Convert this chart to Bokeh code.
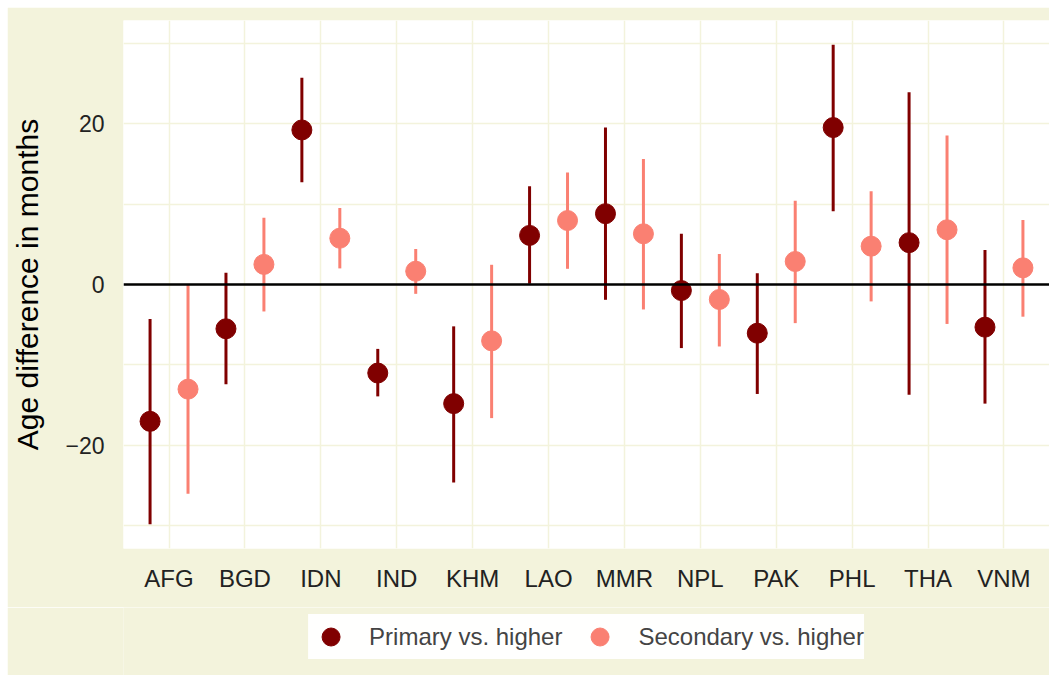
from bokeh.plotting import figure
from bokeh.layouts import column
from bokeh.models import (ColumnDataSource, FactorRange, Range1d, FixedTicker,
                          Span, Legend, LegendItem)
from bokeh.transform import dodge
from bokeh.embed import file_html
from bokeh.resources import INLINE

countries = ["AFG", "BGD", "IDN", "IND", "KHM", "LAO", "MMR", "NPL", "PAK", "PHL", "THA", "VNM"]

primary_est = [-17.0, -5.5, 19.2, -11.0, -14.8, 6.1, 8.8, -0.75, -6.05, 19.5, 5.2, -5.3]
primary_low = [-29.8, -12.4, 12.7, -13.9, -24.6, 0.1, -1.9, -7.9, -13.6, 9.1, -13.7, -14.8]
primary_high = [-4.3, 1.45, 25.7, -8.0, -5.2, 12.2, 19.5, 6.3, 1.4, 29.8, 23.9, 4.3]

secondary_est = [-13.0, 2.5, 5.75, 1.65, -7.0, 7.95, 6.3, -1.86, 2.86, 4.76, 6.8, 2.07]
secondary_low = [-26.0, -3.35, 2.0, -1.16, -16.6, 1.95, -3.1, -7.7, -4.8, -2.1, -4.9, -4.0]
secondary_high = [0.0, 8.3, 9.5, 4.4, 2.45, 13.9, 15.6, 3.8, 10.4, 11.6, 18.5, 8.0]

y_ticks = [-20, 0, 20]
y_minor = [-30, -10, 10, 30]
reference_level = 0

DARK = "#800000"
LIGHT = "#FA8072"
BEIGE = "#F3F3DC"
FONT = "Liberation Sans"

src_p = ColumnDataSource(dict(c=countries, est=primary_est, lo=primary_low, hi=primary_high))
src_s = ColumnDataSource(dict(c=countries, est=secondary_est, lo=secondary_low, hi=secondary_high))

xr = FactorRange(*countries, range_padding=0.1, range_padding_units="absolute")

p = figure(width=1042, height=600, x_range=xr,
           y_range=Range1d(-32.8, 32.8), output_backend="svg", toolbar_location=None,
           min_border_left=116, min_border_top=13, min_border_right=0, min_border_bottom=59,
           margin=(7, 0, 0, 7))

p.background_fill_color = "white"
p.border_fill_color = BEIGE
p.outline_line_color = None

xd_p = dodge("c", -0.25, range=xr)
xd_s = dodge("c", 0.25, range=xr)

p.segment(x0=xd_p, y0="lo", x1=xd_p, y1="hi", source=src_p, line_color=DARK, line_width=3)
p.segment(x0=xd_s, y0="lo", x1=xd_s, y1="hi", source=src_s, line_color=LIGHT, line_width=3)

p.add_layout(Span(location=reference_level, dimension="width", line_color="black", line_width=2.5))

p.scatter(x=xd_p, y="est", source=src_p, size=20, color=DARK)
p.scatter(x=xd_s, y="est", source=src_s, size=20, color=LIGHT)

# axes
p.yaxis.ticker = FixedTicker(ticks=y_ticks, minor_ticks=y_minor)
p.yaxis.axis_label = "Age difference in months"
p.yaxis.axis_label_text_font = FONT
p.yaxis.axis_label_text_font_size = "30px"
p.yaxis.axis_label_text_font_style = "normal"
p.yaxis.axis_label_text_color = "black"
p.yaxis.axis_label_standoff = 18
p.yaxis.major_label_text_font = FONT
p.yaxis.major_label_text_font_size = "23px"
p.yaxis.major_label_text_color = "#222222"
p.yaxis.major_label_standoff = 13
for ax in (p.xaxis[0], p.yaxis[0]):
    ax.axis_line_color = None
    ax.major_tick_line_color = None
    ax.minor_tick_line_color = None
p.xaxis.major_label_text_font = FONT
p.xaxis.major_label_text_font_size = "24px"
p.xaxis.major_label_text_color = "#222222"
p.xaxis.major_label_standoff = 10

p.xgrid.grid_line_color = BEIGE
p.xgrid.grid_line_width = 1.5
p.ygrid.grid_line_color = BEIGE
p.ygrid.grid_line_width = 1.5
p.ygrid.minor_grid_line_color = BEIGE
p.ygrid.minor_grid_line_width = 1.5

# legend strip below the plot (its own figure; its data lie outside its view)
lg = figure(width=1042, height=68, x_range=xr, y_range=Range1d(100, 101),
            x_axis_type=None, y_axis_type=None, output_backend="svg", toolbar_location=None,
            min_border_left=116, min_border_top=0, min_border_right=0, min_border_bottom=0,
            margin=(0, 0, 0, 7))
lg.background_fill_color = BEIGE
lg.border_fill_color = BEIGE
lg.outline_line_color = None
lg.grid.visible = False
lr_p = lg.scatter(x=xd_p, y="est", source=src_p, size=20, color=DARK)
lr_s = lg.scatter(x=xd_s, y="est", source=src_s, size=20, color=LIGHT)

legend = Legend(items=[LegendItem(label="Primary vs. higher", renderers=[lr_p]),
                       LegendItem(label="Secondary vs. higher", renderers=[lr_s])],
                orientation="horizontal", location="top_center",
                label_text_font=FONT, label_text_font_size="24px",
                glyph_width=45, glyph_height=45, padding=4, spacing=15,
                label_standoff=16, margin=7,
                background_fill_color="white", border_line_color=None)
lg.add_layout(legend, "center")

layout = column(p, lg, spacing=0)

open("out.html", "w").write(file_html(layout, INLINE))
